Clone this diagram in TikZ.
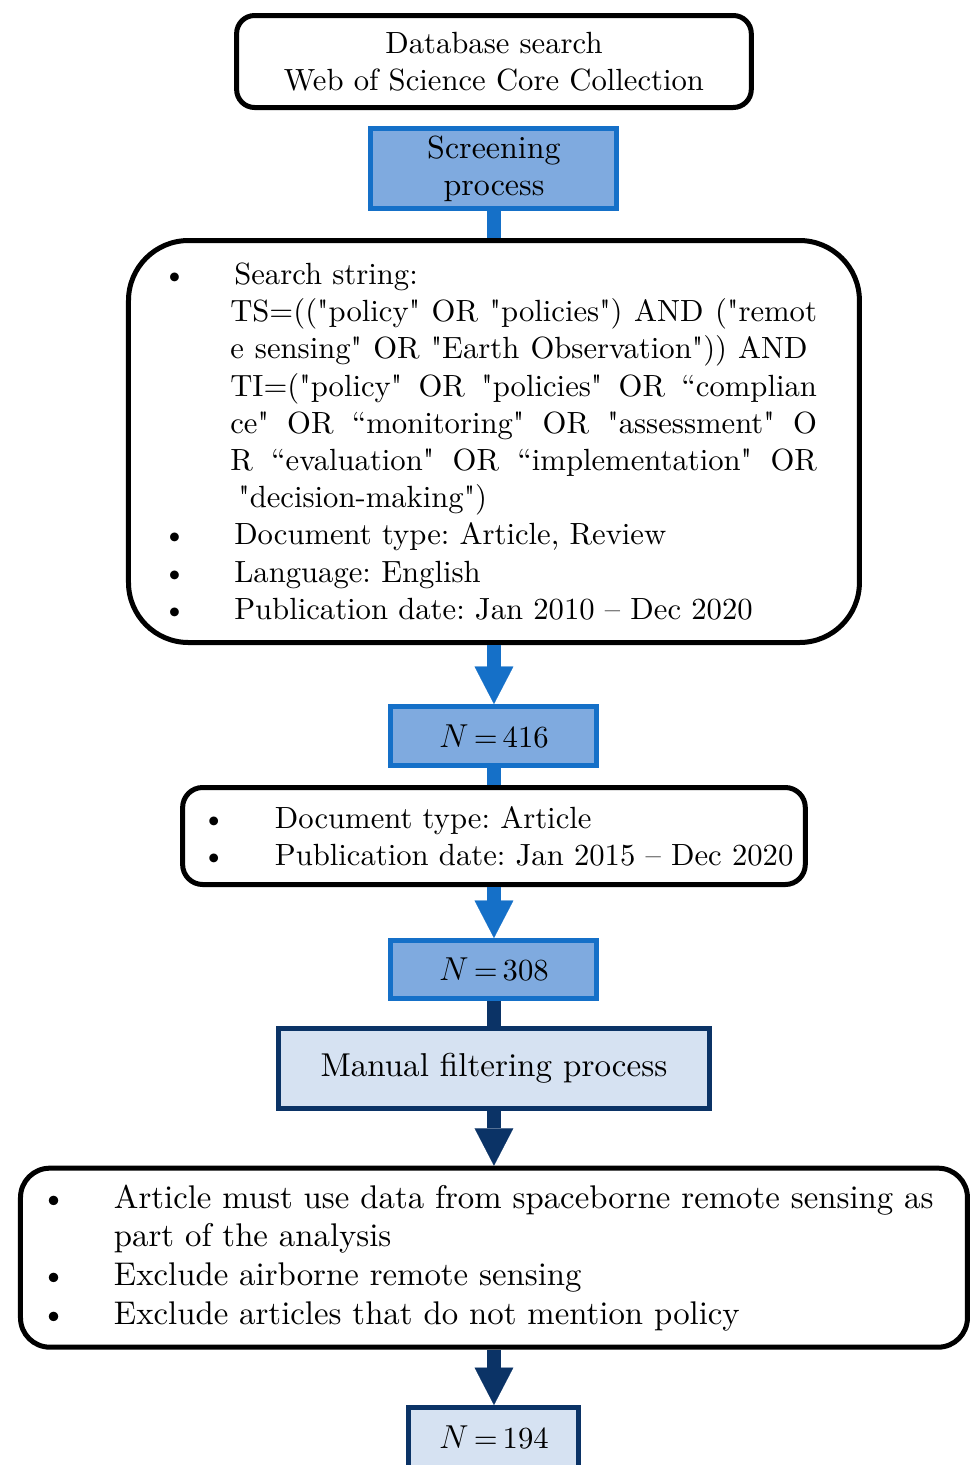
\documentclass[tikz,border=0pt]{standalone}
\usepackage{fontspec}
\setmainfont{lmroman10-regular.otf}[Ligatures=TeXOff, ItalicFont=lmroman10-italic.otf, BoldFont=lmroman10-bold.otf]
\usetikzlibrary{positioning,arrows.meta,calc}
\frenchspacing

\definecolor{midblue}{HTML}{1570C8}
\definecolor{paleblue}{HTML}{7FAADF}
\definecolor{navy}{HTML}{0B3366}
\definecolor{iceblue}{HTML}{D6E2F2}

\newcommand{\bul}[1][-5pt]{\makebox[45.75pt][l]{\hspace*{#1}\textbullet}}
\newcommand{\ind}{\hspace*{45.75pt}}
\newcommand{\full}[2][440pt]{\makebox[#1][s]{\spaceskip=0.3em plus 1fil\relax #2}}

\begin{document}
\begin{tikzpicture}[>={Triangle[width=29pt,length=28pt,line width=0.1pt]}, node distance=12pt,
  font=\fontsize{23}{27.9}\selectfont,
  roundbox/.style={draw, line width=3.75pt, fill=white, align=left, inner ysep=0pt},
  bluebox/.style={draw=midblue, fill=paleblue, line width=3.75pt, align=center, inner sep=0pt},
  navybox/.style={draw=navy, fill=iceblue, line width=3.75pt, align=center, inner sep=0pt},
  bluelink/.style={draw=midblue, line width=10pt},
  navylink/.style={draw=navy, line width=10pt}]

  \node[roundbox, rounded corners=13.5pt, align=center, minimum width=386pt, minimum height=69pt] (db)
    {Database search\\Web of Science Core Collection};
  \node[bluebox, minimum width=184.5pt, minimum height=60pt, below=12pt of db, font=\fontsize{24}{27.9}\selectfont] (scr) {Screening\\process};
  \node[roundbox, rounded corners=45pt, text width=487pt, inner xsep=30.6pt, minimum height=301.5pt, below=20.25pt of scr] (query)
    {\bul\hspace*{3pt}Search string:\\
     \ind\full{TS=(("policy" OR "policies") AND ("remot}\\
     \ind\full[433pt]{e sensing" OR "Earth Observation")) AND}\\
     \ind\full{TI=("policy" OR "policies" OR “complian}\\
     \ind\full{ce" OR “monitoring" OR "assessment" O}\\
     \ind\full{R “evaluation" OR “implementation" OR}\\
     \ind\hspace*{6pt}"decision-making")\\
     \bul\hspace*{3pt}Document type: Article, Review\\
     \bul\hspace*{3pt}Language: English\\
     \bul\hspace*{3pt}Publication date: Jan 2010 – Dec 2020};
  \node[bluebox, minimum width=154.5pt, minimum height=44.25pt, below=44.25pt of query] (n416) {$N$\,=\,416};
  \node[roundbox, rounded corners=15pt, text width=420pt, inner xsep=23.5pt, minimum height=72.75pt, below=12.75pt of n416] (type)
    {\bul[-9pt]Document type: Article\\
     \bul[-9pt]\mbox{Publication date: Jan 2015 – Dec 2020}};
  \node[bluebox, minimum width=154.5pt, minimum height=43.5pt, below=38.25pt of type] (n308) {$N$\,=\,308};
  \node[navybox, minimum width=323.25pt, minimum height=60pt, below=18.75pt of n308, font=\fontsize{24.8}{27.9}\selectfont] (manual)
    {Manual filtering process};
  \node[roundbox, rounded corners=22pt, text width=661.5pt, inner xsep=24.35pt, minimum height=134.25pt, below=39pt of manual,
    font=\fontsize{24.6}{29}\selectfont, yshift=-2pt] (criteria)
    {\bul[-9pt]Article must use data from spaceborne remote sensing as\\
     \ind part of the analysis\\
     \bul[-9pt]Exclude airborne remote sensing\\
     \bul[-9pt]Exclude articles that do not mention policy};
  \node[navybox, minimum width=127.5pt, minimum height=45pt, below=41.5pt of criteria] (n194) {$N$\,=\,194};

  \draw[bluelink] (scr) -- (query);
  \draw[bluelink, ->] (query) -- (n416);
  \draw[bluelink] (n416) -- (type);
  \draw[bluelink, ->] (type) -- (n308);
  \draw[navylink] (n308) -- (manual);
  \draw[navylink, ->] (manual) -- (criteria);
  \draw[navylink, ->] (criteria) -- (n194);

  \pgfresetboundingbox
  \useasboundingbox ($(criteria.west |- db.north)+(-13.5pt,9.75pt)$) rectangle ($(criteria.east |- n194.north)+(3pt,-45pt)$);
\end{tikzpicture}
\end{document}
